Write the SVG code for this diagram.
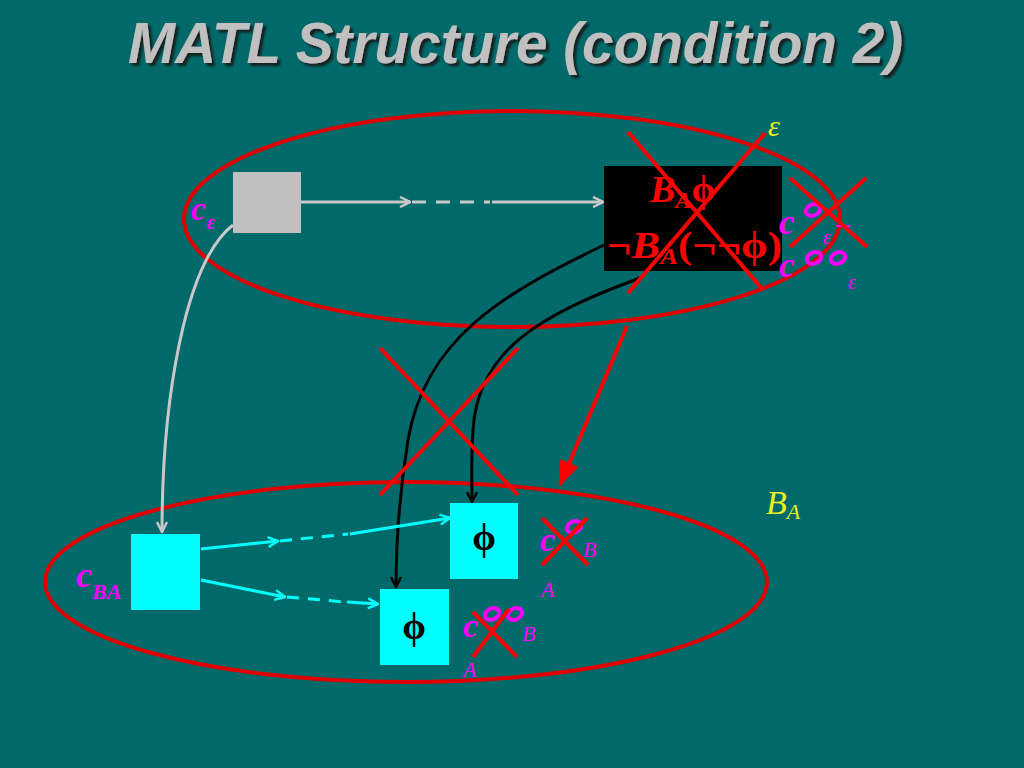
<svg xmlns="http://www.w3.org/2000/svg" width="1024" height="768" viewBox="0 0 1024 768">
<style>
.serif{font-family:"Liberation Serif","Times New Roman",serif;}
.mag{fill:#FF00FF;font-style:italic;font-weight:bold;}
.red{stroke:#FF0000;stroke-width:4;fill:none;}
.ell{stroke:#E00000;stroke-width:4;fill:none;}
.circ{stroke:#FF00FF;stroke-width:4;fill:none;}
.gray{stroke:#C8C8C8;stroke-width:3;fill:none;}
.cyan{stroke:#00FFFF;stroke-width:3;fill:none;}
.blk{stroke:#000;stroke-width:3;fill:none;}
</style>
<defs>
<filter id="shadow" x="-5%" y="-20%" width="110%" height="140%"><feDropShadow dx="3" dy="3" stdDeviation="1" flood-color="#142020" flood-opacity="1"/></filter>
<marker id="ag" viewBox="0 0 12 12" refX="11" refY="6" markerWidth="12" markerHeight="12" markerUnits="userSpaceOnUse" orient="auto"><path d="M1,1 L11,6 L1,11" fill="none" stroke="#C8C8C8" stroke-width="2.5"/></marker>
<marker id="ac" viewBox="0 0 12 12" refX="11" refY="6" markerWidth="12" markerHeight="12" markerUnits="userSpaceOnUse" orient="auto"><path d="M1,1 L11,6 L1,11" fill="none" stroke="#00FFFF" stroke-width="2.5"/></marker>
<marker id="ab" viewBox="0 0 12 12" refX="11" refY="6" markerWidth="12" markerHeight="12" markerUnits="userSpaceOnUse" orient="auto"><path d="M1,1 L11,6 L1,11" fill="none" stroke="#000" stroke-width="2.5"/></marker>
<marker id="ar" viewBox="0 0 20 16" refX="19" refY="8" markerWidth="26" markerHeight="20" markerUnits="userSpaceOnUse" orient="auto"><path d="M0,0 L20,8 L0,16 Z" fill="#FF0000"/></marker>
</defs>
<rect width="1024" height="768" fill="#006A6A"/>
<g id="title">
<text x="128" y="63" textLength="775" lengthAdjust="spacingAndGlyphs" font-family="Liberation Sans, Arial, sans-serif" font-size="58" font-weight="bold" font-style="italic" fill="#C0C0C0" filter="url(#shadow)">MATL Structure (condition 2)</text>
</g>
<g id="ellipse-eps">
<ellipse cx="512" cy="219" rx="328" ry="108" class="ell"/>
<text x="768" y="136" class="serif" font-size="30" font-style="italic" fill="#E8F020">ε</text>
</g>
<g id="ellipse-BA">
<ellipse cx="406" cy="582" rx="361" ry="100" class="ell"/>
<text x="766" y="514" class="serif" font-size="34" font-style="italic" fill="#E8F020">B<tspan font-size="22" dy="5">A</tspan></text>
</g>
<g id="connectors">
<path d="M301,202 L410,202" class="gray" marker-end="url(#ag)"/>
<path d="M412,202 L490,202" class="gray" stroke-dasharray="14,10"/>
<path d="M492,202 L603,202" class="gray" marker-end="url(#ag)"/>
<path d="M233,225 C185,262 162,400 162,532" class="gray" marker-end="url(#ag)"/>
<path d="M604,245 C500,295 425,340 408,440 C400,490 396,540 396,587" class="blk" marker-end="url(#ab)"/>
<path d="M640,278 C540,315 478,350 473,430 C471,460 472,480 472,502" class="blk" marker-end="url(#ab)"/>
<path d="M627,326 L560,485" stroke="#FF0000" stroke-width="4" fill="none" marker-end="url(#ar)"/>
<path d="M201,549 L278,541" class="cyan" marker-end="url(#ac)"/>
<path d="M280,541 L348,534" class="cyan" stroke-dasharray="12,9"/>
<path d="M350,534 L450,518" class="cyan" marker-end="url(#ac)"/>
<path d="M201,580 L285,597" class="cyan" marker-end="url(#ac)"/>
<path d="M287,597 L345,602" class="cyan" stroke-dasharray="12,9"/>
<path d="M347,602 L378,604" class="cyan" marker-end="url(#ac)"/>
<line x1="380" y1="348" x2="518" y2="495" class="red"/>
<line x1="518" y1="348" x2="380" y2="495" class="red"/>
</g>
<g id="node-c-eps">
<rect x="233" y="172" width="68" height="61" fill="#C0C0C0"/>
<text x="191" y="220" class="serif mag" font-size="33">c<tspan font-size="20" dx="1" dy="9">ε</tspan></text>
</g>
<g id="node-black">
<rect x="604" y="166" width="178" height="105" fill="#000"/>
<text x="650" y="202" class="serif" font-size="38" font-style="italic" font-weight="bold" fill="#FF0000">B<tspan font-size="24" dy="6">A</tspan><tspan dy="-6" font-style="normal">ϕ</tspan></text>
<text x="607" y="258" textLength="175" lengthAdjust="spacingAndGlyphs" class="serif" font-size="38" font-weight="bold" fill="#FF0000">¬<tspan font-style="italic">B</tspan><tspan font-size="24" dy="6" font-style="italic">A</tspan><tspan dy="-6">(¬¬ϕ)</tspan></text>
<line x1="628" y1="132" x2="763" y2="290" class="red"/>
<line x1="765" y1="133" x2="628" y2="293" class="red"/>
</g>
<g id="label-c-eps-bar">
<text x="779" y="234" class="serif mag" font-size="35">c</text>
<ellipse cx="813" cy="210" rx="7.5" ry="5.5" transform="rotate(-25 813 210)" class="circ"/>
<text x="823" y="244" class="serif" font-size="20" font-style="italic" fill="#FF00FF">ε</text>
<line x1="836" y1="226" x2="850" y2="226" stroke="#FF00FF" stroke-width="2"/>
<line x1="790" y1="178" x2="867" y2="247" class="red"/>
<line x1="866" y1="178" x2="790" y2="247" class="red"/>
</g>
<g id="label-c-eps-oo">
<text x="779" y="277" class="serif mag" font-size="35">c</text>
<ellipse cx="814" cy="258" rx="7.5" ry="5.5" transform="rotate(-25 814 258)" class="circ"/>
<ellipse cx="838" cy="258" rx="7.5" ry="5.5" transform="rotate(-25 838 258)" class="circ"/>
<text x="848" y="289" class="serif" font-size="20" font-style="italic" fill="#FF00FF">ε</text>
</g>
<g id="node-c-BA">
<rect x="131" y="534" width="69" height="76" fill="#00FFFF"/>
<text x="76" y="587" class="serif mag" font-size="36">c<tspan font-size="22" dx="0" dy="12">BA</tspan></text>
</g>
<g id="node-phi1">
<rect x="450" y="503" width="68" height="76" fill="#00FFFF"/>
<text x="484" y="550" text-anchor="middle" class="serif" font-size="38" font-weight="bold" fill="#000">ϕ</text>
</g>
<g id="node-phi2">
<rect x="380" y="589" width="69" height="76" fill="#00FFFF"/>
<text x="414" y="639" text-anchor="middle" class="serif" font-size="38" font-weight="bold" fill="#000">ϕ</text>
</g>
<g id="label-phi1">
<text x="540" y="551" class="serif mag" font-size="34">c</text>
<ellipse cx="574" cy="527" rx="7.5" ry="5.5" transform="rotate(-25 574 527)" class="circ"/>
<text x="583" y="557" class="serif" font-size="22" font-style="italic" fill="#FF00FF">B</text>
<text x="541" y="597" class="serif" font-size="22" font-style="italic" fill="#FF00FF">A</text>
<line x1="542" y1="518" x2="588" y2="565" class="red"/>
<line x1="587" y1="518" x2="542" y2="565" class="red"/>
</g>
<g id="label-phi2">
<text x="463" y="637" class="serif mag" font-size="34">c</text>
<ellipse cx="492" cy="614" rx="7.5" ry="5.5" transform="rotate(-25 492 614)" class="circ"/>
<ellipse cx="515" cy="614" rx="7.5" ry="5.5" transform="rotate(-25 515 614)" class="circ"/>
<text x="522" y="641" class="serif" font-size="22" font-style="italic" fill="#FF00FF">B</text>
<text x="463" y="677" class="serif" font-size="22" font-style="italic" fill="#FF00FF">A</text>
<line x1="473" y1="612" x2="517" y2="657" class="red"/>
<line x1="509" y1="609" x2="473" y2="657" class="red"/>
</g>
</svg>
